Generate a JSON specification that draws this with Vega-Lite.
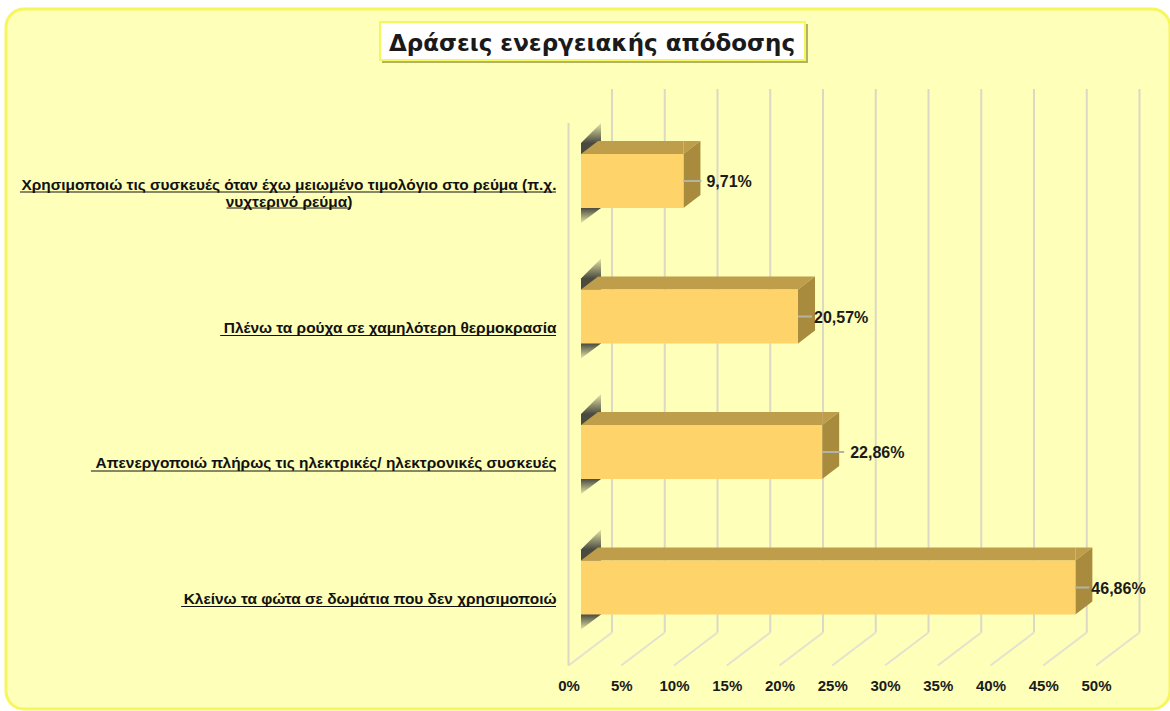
{
"$schema":"https://vega.github.io/schema/vega-lite/v6.json",
"autosize":"none","width":1164,"height":700,
"padding":{"left":6,"top":9,"right":0,"bottom":2},
"background":"#ffffff",
"title":{"text":"Δράσεις ενεργειακής απόδοσης","font":"DejaVu Sans","fontWeight":"bold","fontSize":23,"color":"#1a1a1a","anchor":"middle","dx":4,"offset":-70,"baseline":"bottom"},
"config":{"view":{"fill":"#FEFFB8","stroke":"#F6F65E","strokeWidth":3,"cornerRadius":18}},
"data":{"values":[
{"action":"Χρησιμοποιώ τις συσκευές όταν έχω μειωμένο τιμολόγιο στο ρεύμα (π.χ.\nνυχτερινό ρεύμα)","share":9.71,"text":"9,71%"},
{"action":"Πλένω τα ρούχα σε χαμηλότερη θερμοκρασία","share":20.57,"text":"20,57%"},
{"action":"Απενεργοποιώ πλήρως τις ηλεκτρικές/ ηλεκτρονικές συσκευές","share":22.86,"text":"22,86%"},
{"action":"Κλείνω τα φώτα σε δωμάτια που δεν χρησιμοποιώ","share":46.86,"text":"46,86%"}
]},
"datasets":{
"ticks":[{"tick":0},{"tick":5},{"tick":10},{"tick":15},{"tick":20},{"tick":25},{"tick":30},{"tick":35},{"tick":40},{"tick":45},{"tick":50}]
},
"encoding":{
 "x":{"field":"share","type":"quantitative","scale":{"domain":[0,50],"range":[575,1102.5]},
    "axis":{"values":[0,5,10,15,20,25,30,35,40,45,50],"labelExpr":"datum.value + '%'","orient":"bottom","offset":-31,"labelPadding":0,"labelOffset":-12.5,"labelFlush":false,"labelOverlap":false,"domain":false,"ticks":false,"grid":false,"title":null,"labelFont":"Liberation Sans","labelFontWeight":"bold","labelFontSize":15,"labelColor":"#1a1a1a","labelBaseline":"top"}},
 "y":{"field":"action","type":"nominal","scale":{"domain":["Χρησιμοποιώ τις συσκευές όταν έχω μειωμένο τιμολόγιο στο ρεύμα (π.χ.\nνυχτερινό ρεύμα)","Πλένω τα ρούχα σε χαμηλότερη θερμοκρασία","Απενεργοποιώ πλήρως τις ηλεκτρικές/ ηλεκτρονικές συσκευές","Κλείνω τα φώτα σε δωμάτια που δεν χρησιμοποιώ"],"range":[104.25,646.25],"paddingInner":0,"paddingOuter":0},
    "axis":{"orient":"left","offset":-550,"title":null,"domain":false,"ticks":false,"grid":false,"labelLimit":700,"labelFont":"Liberation Sans","labelFontWeight":"bold","labelColor":"#111111","labelExpr":"split(datum.label, '\\n')",
     "labelFontSize":15.45,
     "labelOffset":{"condition":{"test":"indexof(datum.value,'π.χ')>=0","value":4},"value":11},
     "labelAlign":{"condition":{"test":"indexof(datum.value,'π.χ')>=0","value":"center"},"value":"right"},
     "labelPadding":{"condition":{"test":"indexof(datum.value,'π.χ')>=0","value":267.5},"value":0}}}
},
"layer":[
 {"data":{"name":"ticks"},"mark":{"type":"rule","xOffset":31,"yOffset":-92,"y2Offset":45,"color":"#DBD9C6","strokeWidth":2},
  "encoding":{"x":{"field":"tick","type":"quantitative"},
   "y":{"datum":"Χρησιμοποιώ τις συσκευές όταν έχω μειωμένο τιμολόγιο στο ρεύμα (π.χ.\nνυχτερινό ρεύμα)","type":"nominal"},"y2":{"datum":"Κλείνω τα φώτα σε δωμάτια που δεν χρησιμοποιώ"}}},
 {"data":{"name":"ticks"},"mark":{"type":"rule","xOffset":31,"x2Offset":-12.5,"yOffset":45,"y2Offset":78,"color":"#E3E2D0","strokeWidth":2},
  "encoding":{"x":{"field":"tick","type":"quantitative"},"x2":{"field":"tick"},
   "y":{"datum":"Κλείνω τα φώτα σε δωμάτια που δεν χρησιμοποιώ","type":"nominal"},"y2":{"datum":"Κλείνω τα φώτα σε δωμάτια που δεν χρησιμοποιώ"}}},
 {"data":{"name":"ticks"},"transform":[{"filter":"datum.tick === 0"}],
  "mark":{"type":"rule","xOffset":-12.5,"yOffset":-58,"y2Offset":78,"color":"#DBD9C6","strokeWidth":2},
  "encoding":{"x":{"field":"tick","type":"quantitative"},
   "y":{"datum":"Χρησιμοποιώ τις συσκευές όταν έχω μειωμένο τιμολόγιο στο ρεύμα (π.χ.\nνυχτερινό ρεύμα)","type":"nominal"},"y2":{"datum":"Κλείνω τα φώτα σε δωμάτια που δεν χρησιμοποιώ"}}},
 {"transform":[{"filter":"datum.share === 9.71"}],
  "mark":{"type":"rect","color":"#555500","opacity":0.45,"xOffset":2,"x2Offset":3,"yOffset":-157,"y2Offset":-118},
  "encoding":{"x":{"datum":-19.05,"type":"quantitative"},"x2":{"datum":21.23},"y":{"field":"action","type":"nominal"},"y2":{"field":"action"}}},
 {"transform":[{"filter":"datum.share === 9.71"}],
  "mark":{"type":"rect","fill":"#ffffff","stroke":"#F6F65E","strokeWidth":2,"yOffset":-159,"y2Offset":-121},
  "encoding":{"x":{"datum":-19.05,"type":"quantitative"},"x2":{"datum":21.23},"y":{"field":"action","type":"nominal"},"y2":{"field":"action"}}},
 {"mark":{"type":"point","filled":true,"opacity":1,"size":400,"strokeWidth":0,"shape":"M0 -3.8L2 -5.8L2 2.7L0 4.2Z",
   "fill":{"x1":0,"y1":0,"x2":0,"y2":1,"gradient":"linear","stops":[{"offset":0,"color":"#E6E6A8"},{"offset":0.2,"color":"#4A4A40"},{"offset":0.85,"color":"#4A4A40"},{"offset":1,"color":"#E6E6A8"}]}},
  "encoding":{"x":{"datum":0,"type":"quantitative"}}},
 {"mark":{"type":"bar","size":13,"yOffset":-33.5,"xOffset":17,"color":"#BE9E4B"},
  "encoding":{"x":{"datum":0,"type":"quantitative"},"x2":{"field":"share"}}},
 {"mark":{"type":"point","filled":true,"opacity":1,"size":400,"strokeWidth":0,"color":"#BE9E4B","shape":"M0 -2.7L1.7 -4L1.7 -2.7Z"},
  "encoding":{"x":{"datum":0,"type":"quantitative"}}},
 {"mark":{"type":"point","filled":true,"opacity":1,"size":400,"strokeWidth":0,"color":"#BE9E4B","shape":"M0 -2.7L0 -4L1.7 -4Z"}},
 {"mark":{"type":"point","filled":true,"opacity":1,"size":400,"strokeWidth":0,"color":"#A98B3E","shape":"M0 -2.7L1.7 -4L1.7 1.4L0 2.7Z"}},
 {"mark":{"type":"bar","size":54,"color":"#FED46A"},
  "encoding":{"x":{"datum":0,"type":"quantitative"},"x2":{"field":"share"}}},
 {"transform":[{"filter":"datum.share === 9.71"}],
  "mark":{"type":"rule","x2Offset":18,"color":"#B4B4A4","strokeWidth":2},"encoding":{"x2":{"field":"share"}}},
 {"transform":[{"filter":"datum.share === 9.71"}],
  "mark":{"type":"text","align":"left","baseline":"middle","dx":23,"dy":1,"font":"Liberation Sans","fontWeight":"bold","fontSize":16,"color":"#1a1a1a"},"encoding":{"text":{"field":"text"}}},
 {"transform":[{"filter":"datum.share === 20.57 || datum.share === 46.86"}],
  "mark":{"type":"rule","x2Offset":14,"color":"#B4B4A4","strokeWidth":2},"encoding":{"x2":{"field":"share"}}},
 {"transform":[{"filter":"datum.share === 20.57 || datum.share === 46.86"}],
  "mark":{"type":"text","align":"left","baseline":"middle","dx":16,"dy":1,"font":"Liberation Sans","fontWeight":"bold","fontSize":16,"color":"#1a1a1a"},"encoding":{"text":{"field":"text"}}},
 {"transform":[{"filter":"datum.share === 22.86"}],
  "mark":{"type":"rule","x2Offset":22,"color":"#B4B4A4","strokeWidth":2},"encoding":{"x2":{"field":"share"}}},
 {"transform":[{"filter":"datum.share === 22.86"}],
  "mark":{"type":"text","align":"left","baseline":"middle","dx":28,"dy":1,"font":"Liberation Sans","fontWeight":"bold","fontSize":16,"color":"#1a1a1a"},"encoding":{"text":{"field":"text"}}},
 {"transform":[{"filter":"datum.share === 20.57"}],"mark":{"type":"rule","yOffset":19,"color":"#111111","strokeWidth":1},"encoding":{"x":{"datum":-34.2,"type":"quantitative"},"x2":{"datum":-2.37}}},
 {"transform":[{"filter":"datum.share === 22.86"}],"mark":{"type":"rule","yOffset":19,"color":"#111111","strokeWidth":1},"encoding":{"x":{"datum":-46.45,"type":"quantitative"},"x2":{"datum":-2.37}}},
 {"transform":[{"filter":"datum.share === 46.86"}],"mark":{"type":"rule","yOffset":19,"color":"#111111","strokeWidth":1},"encoding":{"x":{"datum":-37.9,"type":"quantitative"},"x2":{"datum":-2.37}}},
 {"transform":[{"filter":"datum.share === 9.71"}],"mark":{"type":"rule","yOffset":11,"color":"#111111","strokeWidth":1},"encoding":{"x":{"datum":-53.18,"type":"quantitative"},"x2":{"datum":-2.37}}},
 {"transform":[{"filter":"datum.share === 9.71"}],"mark":{"type":"rule","yOffset":27,"color":"#111111","strokeWidth":1},"encoding":{"x":{"datum":-33.6,"type":"quantitative"},"x2":{"datum":-21.8}}}
]
}
